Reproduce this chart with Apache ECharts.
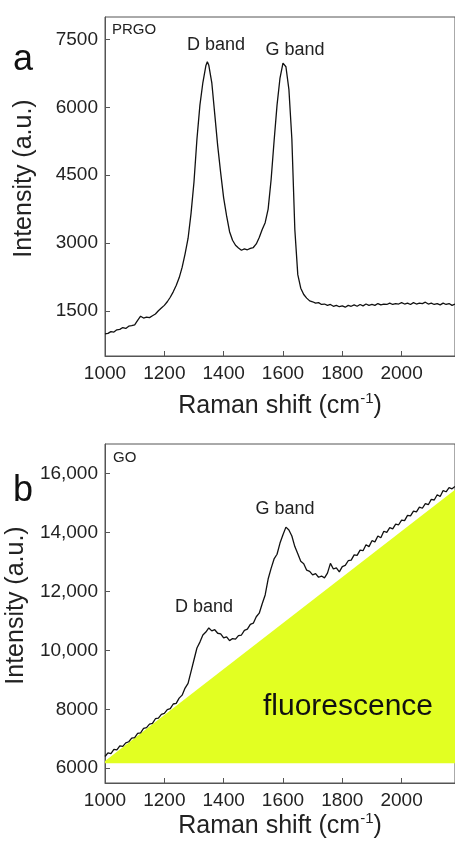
<!DOCTYPE html>
<html>
<head>
<meta charset="utf-8">
<script src="https://cdn.jsdelivr.net/npm/echarts@6/dist/echarts.min.js"></script>
<style>
html,body{margin:0;padding:0;background:#fff;overflow:hidden;}
#c{width:455px;height:841px;}
</style>
</head>
<body>
<div id="c"></div>
<script>
// ---- Panel a: PRGO ----
const prgoShift = [1000,1010,1020,1030,1040,1050,1060,1070,1080,1090,1100,1110,1120,1130,1140,1150,1160,1170,1180,1190,1200,1210,1220,1230,1240,1250,1260,1270,1280,1290,1300,1310,1320,1330,1340,1345,1350,1360,1370,1380,1390,1400,1410,1420,1430,1440,1450,1460,1470,1480,1490,1500,1510,1520,1530,1540,1550,1560,1570,1580,1590,1600,1605,1610,1620,1630,1640,1650,1660,1670,1680,1690,1700,1710,1720,1730,1740,1750,1760,1770,1780,1790,1800,1810,1820,1830,1840,1850,1860,1870,1880,1890,1900,1910,1920,1930,1940,1950,1960,1970,1980,1990,2000,2010,2020,2030,2040,2050,2060,2070,2080,2090,2100,2110,2120,2130,2140,2150,2160,2170,2180];
const prgoIntensity = [990,1000,1040,1030,1080,1090,1130,1110,1160,1170,1190,1290,1380,1340,1360,1350,1390,1430,1500,1560,1620,1700,1800,1920,2060,2230,2460,2760,3100,3650,4350,5300,6050,6550,6920,7010,6930,6550,5850,5150,4550,4000,3600,3250,3060,2950,2890,2840,2870,2850,2880,2900,2980,3120,3300,3450,3750,4400,5250,6050,6650,6980,7010,6900,6400,5300,3300,2300,2000,1860,1780,1720,1700,1670,1680,1640,1650,1620,1640,1600,1620,1590,1610,1580,1620,1600,1630,1600,1640,1610,1650,1620,1640,1620,1660,1630,1650,1640,1670,1640,1660,1650,1680,1650,1670,1640,1680,1650,1670,1660,1690,1650,1670,1640,1660,1630,1670,1640,1660,1620,1650];
const prgoYTicks = [1500,3000,4500,6000,7500];

// ---- Panel b: GO ----
const goShift = [1000,1010,1020,1030,1040,1050,1060,1070,1080,1090,1100,1110,1120,1130,1140,1150,1160,1170,1180,1190,1200,1210,1220,1230,1240,1250,1260,1270,1280,1290,1300,1310,1320,1330,1340,1350,1360,1370,1380,1390,1400,1410,1420,1430,1440,1450,1460,1470,1480,1490,1500,1510,1520,1530,1540,1550,1560,1570,1580,1590,1600,1610,1615,1620,1630,1640,1650,1660,1670,1680,1690,1700,1710,1720,1730,1740,1750,1760,1770,1780,1790,1800,1810,1820,1830,1840,1850,1860,1870,1880,1890,1900,1910,1920,1930,1940,1950,1960,1970,1980,1990,2000,2010,2020,2030,2040,2050,2060,2070,2080,2090,2100,2110,2120,2130,2140,2150,2160,2170,2180];
const goIntensity = [6400,6520,6500,6640,6620,6760,6740,6860,6900,7020,7040,7180,7200,7350,7380,7500,7520,7680,7700,7830,7860,7990,8020,8180,8200,8380,8480,8720,8880,9280,9680,10080,10280,10520,10620,10760,10660,10700,10580,10560,10420,10460,10330,10400,10380,10500,10520,10680,10720,10880,10920,11140,11260,11580,11880,12420,12780,13100,13260,13640,13920,14180,14220,14080,13880,13520,13280,13020,12940,12720,12680,12560,12600,12480,12520,12460,12620,12950,12760,12800,12660,12840,12880,13040,13060,13240,13220,13400,13380,13580,13520,13720,13680,13880,13820,14040,14000,14160,14120,14280,14260,14420,14400,14580,14560,14720,14700,14860,14820,14980,14940,15120,15100,15280,15220,15420,15380,15520,15480,15560];
const goYTicks = [6000,8000,10000,12000,14000,16000];
const goYTickLabels = ['6000','8000','10,000','12,000','14,000','16,000'];

// fluorescence background polygon (vertices)
const fluorShift = [1000,1000,2180,2180];
const fluorIntensity = [6170,6250,15450,6170];

const xTicks = [1000,1200,1400,1600,1800,2000];
const xMin = 1000, xMax = 2180;

const FONT = "'Liberation Sans', Arial, Helvetica, sans-serif";
const axisColor = '#555';
const labelColor = '#222';

function zip(a,b){return a.map((v,i)=>[v,b[i]]);}

const chart = echarts.init(document.getElementById('c'), null, {renderer:'canvas'});

function xAxisCfg(gridIndex, gap){
  return {
    type:'value', gridIndex, min:xMin, max:xMax,
    axisLine:{show:true, lineStyle:{color:axisColor, width:1}},
    axisTick:{show:true, inside:true, length:5, customValues:xTicks, lineStyle:{color:axisColor}},
    axisLabel:{color:labelColor, fontSize:19, fontFamily:FONT, margin:8, customValues:xTicks, formatter:v=>String(v)},
    splitLine:{show:false},
    name:'{a|Raman shift (cm}{s|-1}{a|)}',
    nameLocation:'middle', nameGap:gap,
    nameTextStyle:{color:labelColor, fontFamily:FONT,
      rich:{a:{fontSize:25, fontFamily:FONT, color:labelColor, lineHeight:30},
            s:{fontSize:15, fontFamily:FONT, color:labelColor, lineHeight:30, verticalAlign:'top', padding:[0,0,12,0]}}}
  };
}
function yAxisCfg(gridIndex, min, max, ticks, fmt){
  return {
    type:'value', gridIndex, min, max,
    axisLine:{show:true, lineStyle:{color:axisColor, width:1}},
    axisTick:{show:true, inside:true, length:5, customValues:ticks, lineStyle:{color:axisColor}},
    axisLabel:{color:labelColor, fontSize:19, fontFamily:FONT, margin:7, customValues:ticks, formatter:fmt},
    splitLine:{show:false},
    name:'Intensity (a.u.)', nameLocation:'middle', nameGap:68,
    nameTextStyle:{color:labelColor, fontSize:25, fontFamily:FONT, padding:[0,0,0,16]}
  };
}

const option = {
  backgroundColor:'#fff',
  animation:false,
  grid:[
    {left:105, top:17, width:350, height:339, show:true, borderColor:axisColor, borderWidth:1, containLabel:false, outerBoundsMode:'none'},
    {left:105, top:444, width:350, height:339, show:true, borderColor:axisColor, borderWidth:1, containLabel:false, outerBoundsMode:'none'}
  ],
  xAxis:[xAxisCfg(0, 35), xAxisCfg(1, 24)],
  yAxis:[
    yAxisCfg(0, 500, 8000, prgoYTicks, v=>String(v)),
    yAxisCfg(1, 5500, 17000, goYTicks, v=>{const i=goYTicks.indexOf(v);return i>=0?goYTickLabels[i]:String(v);})
  ],
  series:[
    {type:'line', xAxisIndex:0, yAxisIndex:0, data:zip(prgoShift, prgoIntensity), showSymbol:false, symbol:'none',
     lineStyle:{color:'#111', width:1.3}, z:5},
    {type:'custom', xAxisIndex:1, yAxisIndex:1, data:[[fluorShift[0], fluorIntensity[0]]], z:1,
     renderItem:function(params, api){
       const pts = fluorShift.map((x,i)=>api.coord([x, fluorIntensity[i]]));
       return {type:'polygon', shape:{points:pts}, style:{fill:'#e2ff22'}};
     }},
    {type:'line', xAxisIndex:1, yAxisIndex:1, data:zip(goShift, goIntensity), showSymbol:false, symbol:'none',
     lineStyle:{color:'#111', width:1.3}, z:5}
  ],
  graphic:[
    {type:'text', z:100, x:13, y:42, style:{text:'a', font:'36px '+FONT, fill:'#111', align:'left', verticalAlign:'alphabetic'}},
    {type:'text', z:100, x:13, y:473, style:{text:'b', font:'36px '+FONT, fill:'#111', align:'left', verticalAlign:'alphabetic'}},
    {type:'text', z:100, x:112, y:30, style:{text:'PRGO', font:'15px '+FONT, fill:'#222', align:'left', verticalAlign:'middle'}},
    {type:'text', z:100, x:216, y:45, style:{text:'D band', font:'18px '+FONT, fill:'#222', align:'center', verticalAlign:'middle'}},
    {type:'text', z:100, x:295, y:50, style:{text:'G band', font:'18px '+FONT, fill:'#222', align:'center', verticalAlign:'middle'}},
    {type:'text', z:100, x:113, y:458, style:{text:'GO', font:'15px '+FONT, fill:'#222', align:'left', verticalAlign:'middle'}},
    {type:'text', z:100, x:285, y:509, style:{text:'G band', font:'18px '+FONT, fill:'#222', align:'center', verticalAlign:'middle'}},
    {type:'text', z:100, x:204, y:607, style:{text:'D band', font:'18px '+FONT, fill:'#222', align:'center', verticalAlign:'middle'}},
    {type:'text', z:100, x:348, y:707, style:{text:'fluorescence', font:'30px '+FONT, fill:'#111', align:'center', verticalAlign:'middle'}}
  ]
};
chart.setOption(option);
</script>
</body>
</html>
